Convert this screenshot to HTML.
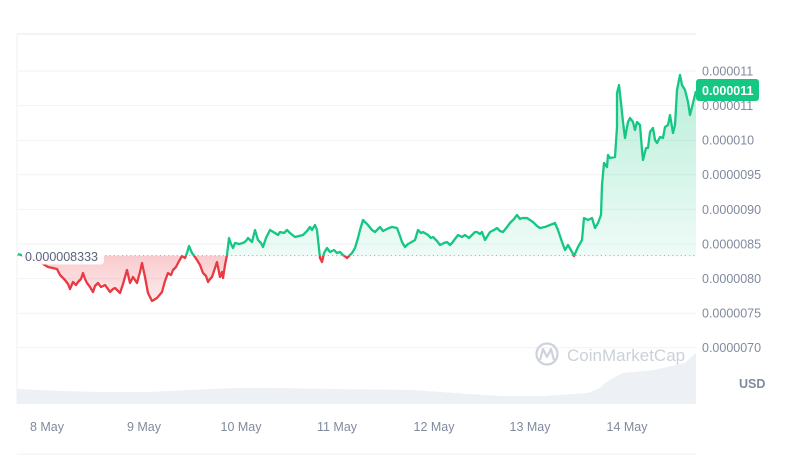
<!DOCTYPE html>
<html><head><meta charset="utf-8"><style>
html,body{margin:0;padding:0;background:#fff;width:800px;height:458px;overflow:hidden}
svg{display:block}
text{font-family:"Liberation Sans",Arial,sans-serif}
</style></head><body>
<svg width="800" height="458" viewBox="0 0 800 458" xmlns="http://www.w3.org/2000/svg">
<defs>
<linearGradient id="gg" gradientUnits="userSpaceOnUse" x1="0" y1="75" x2="0" y2="256">
<stop offset="0" stop-color="#16c784" stop-opacity="0.30"/>
<stop offset="1" stop-color="#16c784" stop-opacity="0.07"/>
</linearGradient>
<linearGradient id="rg" gradientUnits="userSpaceOnUse" x1="0" y1="256" x2="0" y2="302">
<stop offset="0" stop-color="#ea3943" stop-opacity="0.26"/>
<stop offset="1" stop-color="#ea3943" stop-opacity="0.10"/>
</linearGradient>
<clipPath id="above"><rect x="0" y="0" width="800" height="255.6"/></clipPath>
<clipPath id="below"><rect x="0" y="255.6" width="800" height="300"/></clipPath>
<path id="area" d="M18,254 L24,256 L32,259 L40,262 L48,267 L57,269 L60,275 L65,280 L70,289 L73,282 L78,282 L83,273 L87,283 L93,292 L98,283 L105,285 L110,292 L115,288 L120,293 L127,270 L130,283 L133,277 L137,283 L142,263 L145,277 L148,293 L152,301 L157,298 L162,292 L168,273 L173,270 L178,263 L182,256 L187,253 L189,246 L192,253 L197,260 L200,265 L203,273 L208,282 L212,277 L217,262 L220,277 L222,272 L223,278 L225,265 L227,255 L229,238 L233,248 L235,243 L243,243 L248,238 L252,242 L255,230 L258,240 L263,247 L270,230 L275,233 L280,232 L287,230 L290,233 L295,237 L303,235 L310,227 L315,225 L317,230 L320,258 L322,262 L327,248 L330,252 L337,253 L343,255 L347,258 L352,253 L355,248 L358,238 L363,220 L368,225 L375,232 L380,227 L385,230 L392,227 L397,228 L402,242 L405,247 L410,243 L415,240 L418,230 L423,232 L428,235 L433,237 L440,245 L447,242 L452,243 L458,235 L465,235 L472,235 L477,232 L482,232 L485,240 L490,232 L497,228 L503,232 L510,223 L517,215 L522,218 L527,218 L533,222 L540,228 L545,227 L550,225 L555,223 L558,230 L562,242 L565,250 L568,245 L572,252 L574,256 L578,247 L582,240 L584,218 L588,220 L592,218 L595,228 L598,223 L601,215 L602,185 L604,163 L607,167 L608,155 L610,158 L615,157 L617,127 L617,93 L619,85 L621,103 L623,122 L625,138 L628,122 L630,118 L633,122 L635,130 L637,122 L640,125 L642,150 L643,160 L646,148 L648,148 L650,132 L653,128 L655,140 L657,143 L660,137 L663,138 L665,127 L668,125 L670,115 L673,133 L675,125 L677,90 L680,75 L682,85 L685,90 L688,102 L690,115 L693,103 L696,91 L696,255.6 L18,255.6 Z"/>
<path id="ln" d="M18,254 L24,256 L32,259 L40,262 L48,267 L57,269 L60,275 L65,280 L68,284 L70,289 L73,282 L76,285 L78,282 L81,279 L83,273 L85,279 L87,283 L90,287 L93,292 L95,286 L98,283 L101,287 L105,285 L108,289 L110,292 L113,289 L115,288 L118,291 L120,293 L123,284 L127,270 L130,283 L133,277 L137,283 L140,272 L142,263 L145,277 L148,293 L152,301 L157,298 L162,292 L165,281 L168,273 L171,275 L173,270 L176,267 L178,263 L182,256 L185,258 L187,253 L189,246 L192,253 L195,257 L197,260 L200,265 L203,273 L206,276 L208,282 L210,279 L212,277 L215,268 L217,262 L220,277 L222,272 L223,278 L225,265 L227,255 L229,238 L231,244 L233,248 L235,243 L239,244 L243,243 L246,241 L248,238 L252,242 L255,230 L258,240 L261,243 L263,247 L266,238 L270,230 L275,233 L278,235 L280,232 L284,233 L287,230 L290,233 L295,237 L299,236 L303,235 L307,231 L310,227 L312,230 L315,225 L317,230 L320,258 L322,262 L324,253 L327,248 L330,252 L334,250 L337,253 L340,252 L343,255 L347,258 L350,255 L352,253 L355,248 L358,238 L360,230 L363,220 L366,223 L368,225 L372,230 L375,232 L378,229 L380,227 L383,231 L385,230 L389,228 L392,227 L397,228 L400,236 L402,242 L405,247 L408,244 L410,243 L415,240 L418,230 L421,233 L423,232 L428,235 L431,238 L433,237 L437,241 L440,245 L444,243 L447,242 L450,245 L452,243 L455,239 L458,235 L462,237 L465,235 L469,238 L472,235 L475,232 L477,232 L480,234 L482,232 L485,240 L490,232 L494,230 L497,228 L500,231 L503,232 L507,227 L510,223 L514,219 L517,215 L520,219 L522,218 L527,218 L530,220 L533,222 L537,226 L540,228 L545,227 L550,225 L555,223 L558,230 L562,242 L565,250 L568,245 L572,252 L574,256 L578,247 L582,240 L584,218 L588,220 L592,218 L595,228 L598,223 L601,215 L602,185 L604,163 L607,167 L608,155 L610,158 L615,157 L617,127 L617,93 L619,85 L621,103 L623,122 L625,138 L628,122 L630,118 L633,122 L635,130 L637,122 L640,125 L642,150 L643,160 L646,148 L648,148 L650,132 L653,128 L655,140 L657,143 L660,137 L663,138 L665,127 L668,125 L670,115 L673,133 L675,125 L677,90 L680,75 L682,85 L685,90 L688,102 L690,115 L693,103 L696,91"/>
</defs>

<!-- frame / grid -->
<line x1="17" y1="34" x2="696" y2="34" stroke="#eceef1" stroke-width="1.2"/>
<line x1="17" y1="34" x2="17" y2="404" stroke="#eef0f3" stroke-width="1"/>
<g stroke="#f0f2f5" stroke-width="1">
<line x1="17" y1="71" x2="696" y2="71"/>
<line x1="17" y1="105.6" x2="696" y2="105.6"/>
<line x1="17" y1="140.2" x2="696" y2="140.2"/>
<line x1="17" y1="174.8" x2="696" y2="174.8"/>
<line x1="17" y1="209.4" x2="696" y2="209.4"/>
<line x1="17" y1="244" x2="696" y2="244"/>
<line x1="17" y1="278.6" x2="696" y2="278.6"/>
<line x1="17" y1="313.2" x2="696" y2="313.2"/>
<line x1="17" y1="347.8" x2="696" y2="347.8"/>
</g>
<line x1="17" y1="454" x2="696" y2="454" stroke="#eef0f3" stroke-width="1"/>

<!-- volume -->
<path d="M17,389 L60,391 L103,392 L147,392 L190,390 L235,388 L279,388 L330,389 L411,390 L455,393 L500,396 L544,396 L588,393 L600,388 L605,383 L615,377 L623,373 L654,370 L685,363 L691,357 L696,353 L696,404 L17,404 Z" fill="#edf0f4"/>

<!-- watermark -->
<circle cx="547" cy="354" r="10.5" fill="none" stroke="#cdd2db" stroke-width="2.2"/>
<path d="M540,360 L543,349 L547,357 L551,349 L554,360" fill="none" stroke="#cdd2db" stroke-width="2.2" stroke-linejoin="round"/>
<text x="567" y="361" font-size="17" fill="#cbd0d9">CoinMarketCap</text>

<!-- area fills -->
<use href="#area" fill="url(#gg)" clip-path="url(#above)"/>
<use href="#area" fill="url(#rg)" clip-path="url(#below)"/>

<!-- baseline -->
<line x1="17" y1="255.6" x2="696" y2="255.6" stroke="#a3aab6" stroke-width="1" stroke-dasharray="1.2,3"/>

<!-- lines -->
<use href="#ln" fill="none" stroke="#16c784" stroke-width="2.3" stroke-linejoin="round" clip-path="url(#above)"/>
<use href="#ln" fill="none" stroke="#ea3943" stroke-width="2.3" stroke-linejoin="round" clip-path="url(#below)"/>

<!-- baseline label -->
<rect x="22" y="248.5" width="82" height="16" rx="3" fill="#ffffff" fill-opacity="0.92"/>
<text x="25" y="261" font-size="12.5" fill="#58667e">0.000008333</text>

<!-- y axis labels -->
<g font-size="12.5" fill="#808a9d">
<text x="702" y="75.5">0.000011</text>
<text x="702" y="110">0.000011</text>
<text x="702" y="144.5">0.000010</text>
<text x="702" y="179">0.0000095</text>
<text x="702" y="214">0.0000090</text>
<text x="702" y="248.5">0.0000085</text>
<text x="702" y="283">0.0000080</text>
<text x="702" y="317.5">0.0000075</text>
<text x="702" y="352">0.0000070</text>
</g>
<text x="739" y="388" font-size="12.5" font-weight="bold" fill="#808a9d">USD</text>

<!-- price tag -->
<rect x="696" y="79" width="63" height="22" rx="3" fill="#16c784"/>
<text x="702" y="95" font-size="12.5" font-weight="bold" fill="#ffffff">0.000011</text>

<!-- x axis labels -->
<g font-size="12.5" fill="#808a9d" text-anchor="middle">
<text x="47" y="431">8 May</text>
<text x="144" y="431">9 May</text>
<text x="241" y="431">10 May</text>
<text x="337" y="431">11 May</text>
<text x="434" y="431">12 May</text>
<text x="530" y="431">13 May</text>
<text x="627" y="431">14 May</text>
</g>
</svg>
</body></html>
